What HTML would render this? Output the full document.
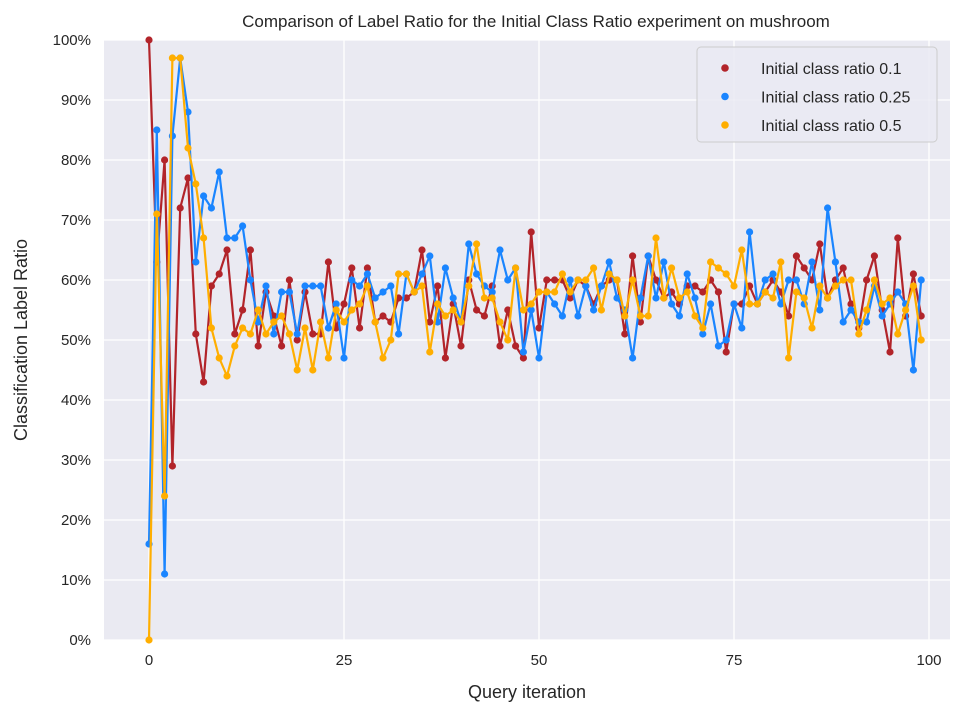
<!DOCTYPE html>
<html><head><meta charset="utf-8"><style>
body{margin:0;background:#fff;}
svg text{font-family:"Liberation Sans",sans-serif;fill:#262626;}
</style></head><body>
<svg id="c" width="977" height="716" viewBox="0 0 977 716"></svg>
<script>
const iterations = Array.from({length:100},(_,i)=>i);
const ratio01 = [100,63,80,29,72,77,51,43,59,61,65,51,55,65,49,58,54,49,60,50,58,51,51,63,52,56,62,52,62,53,54,53,57,57,58,65,53,59,47,56,49,60,55,54,59,49,55,49,47,68,52,60,60,60,57,60,59,56,59,60,60,51,64,53,64,60,57,58,56,59,59,58,60,58,48,56,56,59,56,58,60,58,54,64,62,60,66,57,60,62,56,52,60,64,55,48,67,54,61,54];
const ratio025 = [16,85,11,84,97,88,63,74,72,78,67,67,69,60,53,59,51,58,58,51,59,59,59,52,56,47,60,59,61,57,58,59,51,61,58,61,64,53,62,57,53,66,61,59,58,65,60,62,48,55,47,58,56,54,60,54,59,55,59,63,57,55,47,57,64,57,63,56,54,61,57,51,56,49,50,56,52,68,56,60,61,56,60,60,56,63,55,72,63,53,55,53,53,59,54,56,58,56,45,60];
const ratio05 = [0,71,24,97,97,82,76,67,52,47,44,49,52,51,55,51,53,54,51,45,52,45,53,47,55,53,55,56,59,53,47,50,61,61,58,59,48,56,54,55,53,59,66,57,57,53,50,62,55,56,58,58,58,61,58,60,60,62,55,61,60,54,60,54,54,67,57,62,57,58,54,52,63,62,61,59,65,56,56,58,57,63,47,58,57,52,59,57,59,60,60,51,55,60,56,57,51,55,59,50];
const xTicks = [0,25,50,75,100];
const yTicks = [0,10,20,30,40,50,60,70,80,90,100];
const seriesNames = ["Initial class ratio 0.1","Initial class ratio 0.25","Initial class ratio 0.5"];
const colors = ["#b2242a","#1a85ff","#ffae00"];

const NS="http://www.w3.org/2000/svg";
const svg=document.getElementById('c');
const L=104,R=950,T=40,B=640;
const xs=v=>149+(v/100)*780;
const ys=v=>B-(v/100)*(B-T);
function mk(tag,attrs,parent){const e=document.createElementNS(NS,tag);for(const k in attrs)e.setAttribute(k,attrs[k]);(parent||svg).appendChild(e);return e;}

const bg=mk('rect',{x:L,y:T,width:R-L,height:B-T,fill:'#eaeaf2'});



yTicks.forEach(t=>{
  const g=mk('line',{x1:L,x2:R,y1:ys(t),y2:ys(t),stroke:'#fff','stroke-width':1.3});
  
  
  const lb=mk('text',{x:L-13,y:ys(t)+5,'text-anchor':'end','font-size':15});
  lb.textContent=t+'%';
  
  
});
xTicks.forEach(t=>{
  const g=mk('line',{x1:xs(t),x2:xs(t),y1:T,y2:B,stroke:'#fff','stroke-width':1.3});
  
  
  const lb=mk('text',{x:xs(t),y:B+25,'text-anchor':'middle','font-size':15});
  lb.textContent=t;
  
  
});

[ratio01,ratio025,ratio05].forEach((data,si)=>{
  const g=mk('g',{});
  
  
  const pl=mk('polyline',{points:data.map((v,i)=>xs(iterations[i])+','+ys(v)).join(' '),fill:'none',stroke:colors[si],'stroke-width':2.2,'stroke-linejoin':'round'},g);
  
  
  data.forEach((v,i)=>{
    const c=mk('circle',{cx:xs(iterations[i]),cy:ys(v),r:3.6,fill:colors[si]},g);
    
    
  });
});

const t=mk('text',{x:536,y:27,'text-anchor':'middle','font-size':17});
t.textContent='Comparison of Label Ratio for the Initial Class Ratio experiment on mushroom';


const xl=mk('text',{x:527,y:698,'text-anchor':'middle','font-size':18});
xl.textContent='Query iteration';


const yl=mk('text',{x:27,y:340,'text-anchor':'middle','font-size':18,transform:'rotate(-90 27 340)'});
yl.textContent='Classification Label Ratio';



const lg=mk('g',{});


mk('rect',{x:697,y:47,width:240,height:95,rx:4,fill:'#eaeaf2',stroke:'#cccccc','fill-opacity':0.8},lg);
seriesNames.forEach((n,i)=>{
  const y=68+i*28.5;
  const e=mk('g',{},lg);
  
  
  mk('circle',{cx:725,cy:y,r:3.8,fill:colors[i]},e);
  const tx=mk('text',{x:761,y:y+6,'font-size':16},e);
  tx.textContent=n;
});
</script>
</body></html>
